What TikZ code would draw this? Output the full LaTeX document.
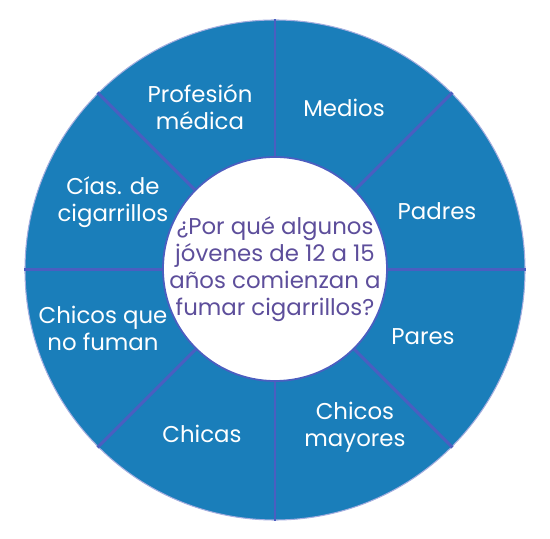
\documentclass[tikz,border=0pt]{standalone}
\usepackage{fontspec}
\setmainfont{Poppins}
\definecolor{ruedaazul}{HTML}{1A7EBA}
\definecolor{lineamorada}{HTML}{4B5EC0}
\definecolor{textomorado}{HTML}{5D4E9B}
\begin{document}
\begin{tikzpicture}[
    etiqueta/.style={text=white, align=center, font=\fontsize{13}{15.4}\selectfont},
    pregunta/.style={text=textomorado, align=center, font=\fontsize{13}{15.3}\selectfont}
]
    \useasboundingbox (-5.5,-5.38) rectangle (5.5,5.4);

    % disco exterior
    \fill[ruedaazul] (0,0) circle (5);
    \draw[lineamorada!50, line width=0.6pt] (0,0) circle (5);

    % radios entre sectores
    \foreach \ang in {0,45,...,315}
        \draw[lineamorada, line width=1.7pt] (\ang:2) -- (\ang:5.02);

    % circulo central
    \fill[white] (0,0.02) circle (2.24);
    \draw[lineamorada, line width=1pt] (0,0.02) circle (2.24);
    \node[pregunta] (centro) at (0,0.02) {¿Por qué algunos\\jóvenes de 12 a 15\\años comienzan a\\fumar cigarrillos?};

    % sectores
    \node[etiqueta] (medica) at (-1.5, 3.26) {Profesión\\médica};
    \node[etiqueta] (medios) at (1.38, 3.24) {Medios};
    \node[etiqueta] (padres) at (3.24, 1.18) {Padres};
    \node[etiqueta] (pares) at (2.96, -1.34) {Pares};
    \node[etiqueta] (mayores) at (1.6, -3.14) {Chicos\\mayores};
    \node[etiqueta] (chicas) at (-1.46, -3.28) {Chicas};
    \node[etiqueta] (nofuman) at (-3.44, -1.16) {Chicos que\\no fuman};
    \node[etiqueta] (cias) at (-3.24, 1.36) {Cías. de\\cigarrillos};
\end{tikzpicture}
\end{document}
